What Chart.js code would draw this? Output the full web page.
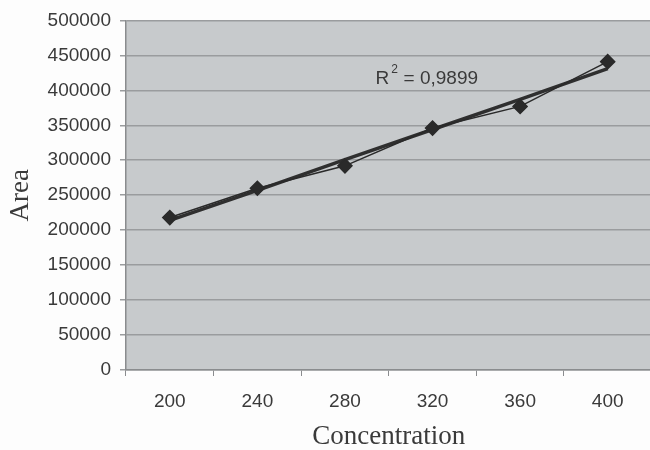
<!DOCTYPE html>
<html>
<head>
<meta charset="utf-8">
<script src="https://cdn.jsdelivr.net/npm/chart.js@4/dist/chart.umd.min.js"></script>
<style>
  html, body { margin: 0; padding: 0; background: #fdfdfd; overflow: hidden; }
  #wrap { width: 660px; height: 450px; }
</style>
</head>
<body>
<div id="wrap"><canvas id="chartCanvas"></canvas></div>
<script>
// data
const concentrations = ['200', '240', '280', '320', '360', '400'];
const areaValues = [218000, 260000, 292000, 346000, 377000, 441000];
// linear trendline, read at each category
const trendValues = [214000, 257000, 301000, 344000, 387000, 431000];
const yTicks = [0, 50000, 100000, 150000, 200000, 250000, 300000, 350000, 400000, 450000, 500000];
const rSquaredText = '0,9899';

// gray plot area + R² label
const plotDecor = {
    id: 'plotDecor',
    beforeDraw: function (chart) {
        let ctx = chart.ctx;
        let a = chart.chartArea;
        ctx.save();
        ctx.fillStyle = '#c7cacc';
        ctx.fillRect(a.left, a.top, a.right - a.left, a.bottom - a.top);
        ctx.restore();
    },
    afterDatasetsDraw: function (chart) {
        let ctx = chart.ctx;
        let x = chart.scales.x.getPixelForValue(3) - 57;
        let y = chart.scales.y.getPixelForValue(418000);
        ctx.save();
        ctx.fillStyle = '#3a3a3a';
        ctx.textBaseline = 'middle';
        ctx.font = '19px "Liberation Sans", Arial, sans-serif';
        ctx.fillText('R', x, y + 1);
        let w = ctx.measureText('R').width;
        ctx.font = '12px "Liberation Sans", Arial, sans-serif';
        ctx.fillText('2', x + w + 2, y - 8);
        ctx.font = '19px "Liberation Sans", Arial, sans-serif';
        ctx.fillText(' = ' + rSquaredText, x + w + 9, y + 1);
        ctx.restore();
    }
};

let ctx = document.getElementById('chartCanvas').getContext('2d');
let myChart = new Chart(ctx, {
    type: 'line',
    data: {
        labels: concentrations,
        datasets: [{
            label: 'Area',
            data: areaValues,
            borderColor: '#2a2a2a',
            backgroundColor: '#2a2a2a',
            borderWidth: 1.5,
            pointStyle: 'rectRot',
            pointRadius: 7,
            pointHoverRadius: 7,
            tension: 0
        }, {
            label: 'Trend',
            data: trendValues,
            borderColor: '#2f2f2f',
            borderWidth: 3.5,
            pointRadius: 0,
            tension: 0
        }]
    },
    options: {
        responsive: true,
        maintainAspectRatio: false,
        animation: false,
        layout: {
            padding: { top: 20, right: 6, left: 0, bottom: 0 }
        },
        plugins: {
            legend: { display: false },
            tooltip: { enabled: false }
        },
        scales: {
            x: {
                type: 'category',
                offset: true,
                grid: {
                    offset: true,
                    drawOnChartArea: false,
                    drawTicks: true,
                    tickLength: 6,
                    color: '#8a8c8e'
                },
                border: { color: '#8a8c8e', width: 1.5 },
                ticks: {
                    color: '#3a3a3a',
                    padding: 14,
                    font: { family: '"Liberation Sans", Arial, sans-serif', size: 19 }
                },
                title: {
                    display: true,
                    text: 'Concentration',
                    color: '#3a3a3a',
                    padding: { top: 0, bottom: 0 },
                    font: { family: '"Liberation Serif", "Times New Roman", serif', size: 27, lineHeight: 1 }
                },
                afterFit: function (scale) { scale.height = 80; }
            },
            y: {
                min: 0,
                max: 500000,
                afterBuildTicks: function (scale) {
                    scale.ticks = yTicks.map(function (v) { return { value: v }; });
                },
                grid: {
                    color: '#9a9c9e',
                    lineWidth: 1.5,
                    tickLength: 6
                },
                border: { color: '#8a8c8e', width: 1.5 },
                ticks: {
                    color: '#3a3a3a',
                    padding: 9,
                    font: { family: '"Liberation Sans", Arial, sans-serif', size: 19 },
                    callback: function (v) { return String(v); }
                },
                title: {
                    display: true,
                    text: 'Area',
                    color: '#3a3a3a',
                    padding: { top: 7, bottom: 0 },
                    font: { family: '"Liberation Serif", "Times New Roman", serif', size: 27, lineHeight: 1 }
                },
                afterFit: function (scale) { scale.width = 126; }
            }
        }
    },
    plugins: [plotDecor]
});
</script>
</body>
</html>
